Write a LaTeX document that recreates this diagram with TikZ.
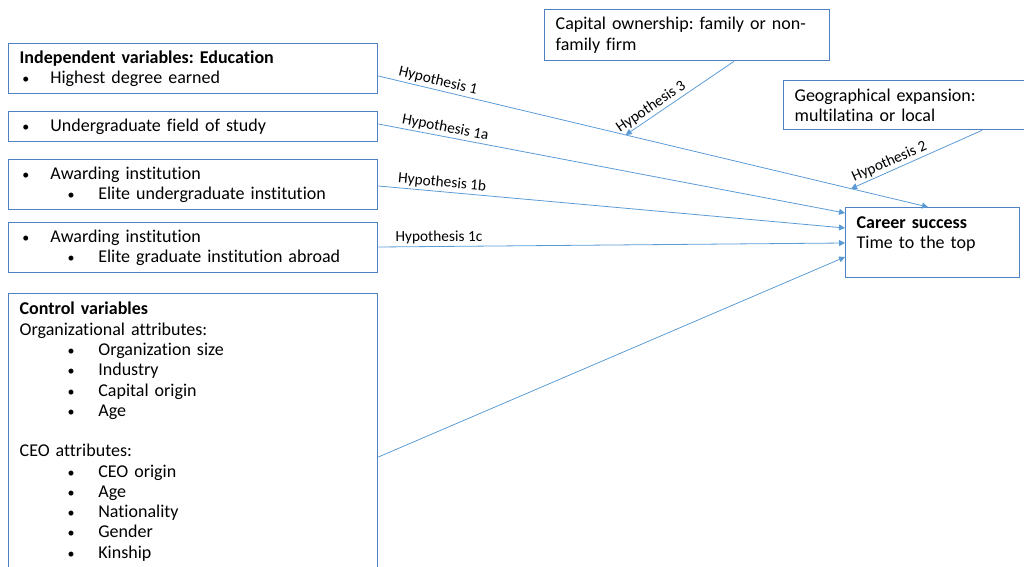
\documentclass[tikz,border=0pt]{standalone}
\usepackage{fontspec}
\setmainfont{Carlito}[Ligatures=NoCommon]
\usetikzlibrary{arrows.meta,calc}
\definecolor{boxblue}{RGB}{79,129,196}
\definecolor{lineblue}{RGB}{91,155,213}
\newcommand{\dotb}{{\fontsize{10.5}{10.5}\selectfont\textbullet}}
\newcommand{\bul}[1]{\makebox[23pt][l]{\hspace{2pt}\dotb}#1}
\newcommand{\subbul}[1]{\makebox[59pt][l]{\hspace{36pt}\dotb}#1}
\frenchspacing

\begin{document}
\begin{tikzpicture}[x=0.75pt, y=-0.75pt,
	font=\fontsize{13.5}{15.2}\selectfont,
	>={Triangle[length=4.5pt,width=4.5pt]},
	varbox/.style={draw=boxblue, line width=1pt, anchor=north west, align=left, inner xsep=8.25pt, inner ysep=0pt},
	link/.style={draw=lineblue, line width=0.6pt},
	hyp/.style={font=\fontsize{11.5}{12}\selectfont, sloped, above, inner sep=1.5pt}]
			\useasboundingbox (0,0) rectangle (1024,567);
			\clip (0,0) rectangle (1024,567);

			\node[varbox, text width=260.25pt, minimum height=37.5pt] (ind) at (8,43) {\textbf{Independent variables: Education}\\\bul{Highest degree earned}};
			\node[varbox, text width=260.25pt, minimum height=22.5pt] (field) at (8,111) {\bul{Undergraduate field of study}};
			\node[varbox, text width=260.25pt, minimum height=37.5pt] (elite) at (8,159) {\bul{Awarding institution}\\\subbul{Elite undergraduate institution}};
			\node[varbox, text width=260.25pt, minimum height=37.5pt] (abroad) at (8,222) {\bul{Awarding institution}\\\subbul{Elite graduate institution abroad}};
			\node[varbox, text width=260.25pt, inner ysep=6.5pt] (ctrl) at (8,293) {\textbf{Control variables}\\Organizational attributes:\\\subbul{Organization size}\\\subbul{Industry}\\\subbul{Capital origin}\\\subbul{Age}\\[15.2pt]CEO attributes:\\\subbul{CEO origin}\\\subbul{Age}\\\subbul{Nationality}\\\subbul{Gender}\\\subbul{Kinship}\\\mbox{}};

			\node[varbox, text width=197.25pt, minimum height=38.25pt] (cap) at (544,9) {Capital ownership: family or non-\\family firm};
			\node[varbox, text width=178.5pt, minimum height=36.75pt] (geo) at (783,80) {Geographical expansion:\\multilatina or local};
			\node[varbox, text width=114pt, minimum height=52.5pt] (career) at (845,207) {\textbf{Career success}\\Time to the top\\\mbox{}};

			\draw[link, ->] ($(ind.north east)+(0,33)$) -- node[hyp, pos=0.105] {Hypothesis 1} coordinate[pos=0.45] (h3end) coordinate[pos=0.86] (h2end) ($(career.north west)+(83,0)$);
			\draw[link, ->] ($(field.north east)+(0,13)$) -- node[hyp, pos=0.14] {Hypothesis 1a} ($(career.north west)+(0,6)$);
			\draw[link, ->] ($(elite.north east)+(0,27)$) -- node[hyp, pos=0.135] {Hypothesis 1b} ($(career.north west)+(0,21)$);
			\draw[link, ->] ($(abroad.north east)+(0,25)$) -- node[hyp, pos=0.13] {Hypothesis 1c} ($(career.north west)+(0,36)$);
			\draw[link, ->] ($(ctrl.north east)+(0,164)$) -- ($(career.north west)+(0,50)$);

			\draw[link, <-] (h3end) -- node[hyp, pos=0.28] {Hypothesis 3} ($(cap.south west)+(190,0)$);
			\draw[link, <-] (h2end) -- node[hyp, pos=0.32] {Hypothesis 2} ($(geo.south west)+(199,0)$);
		\end{tikzpicture}
\end{document}
